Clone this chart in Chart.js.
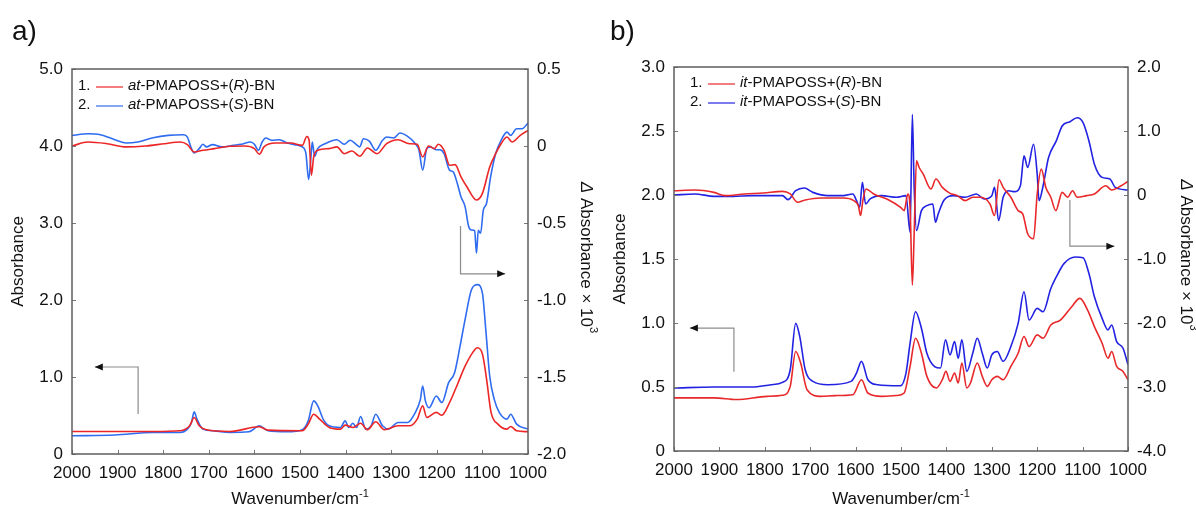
<!DOCTYPE html>
<html>
<head>
<meta charset="utf-8">
<script src="https://cdn.jsdelivr.net/npm/chart.js@4"></script>
<style>
  body { margin: 0; background: #fff; }
  #wrap { position: relative; width: 1196px; height: 508px; }
  canvas { position: absolute; top: 0; }
  #chartA { left: 0; }
  #chartB { left: 598px; }
</style>
</head>
<body>
<div id="wrap">
  <canvas id="chartA" width="598" height="508"></canvas>
  <canvas id="chartB" width="598" height="508"></canvas>
</div>
<script>
// ---- data (wavenumber / cm-1 and values) ----
const xTicks = [2000, 1900, 1800, 1700, 1600, 1500, 1400, 1300, 1200, 1100, 1000];
const aLeftTicks = [0, 1, 2, 3, 4, 5];
const aRightTicks = [-2, -1.5, -1, -0.5, 0, 0.5];
const bLeftTicks = [0, 0.5, 1, 1.5, 2, 2.5, 3];
const bRightTicks = [-4, -3, -2, -1, 0, 1, 2];

// a) delta absorbance x 10^3 (right axis)
const aDiffR_wn = [2000,1965,1923,1881,1839,1797,1763,1747,1732,1713,1688,1654,1621,1600,1589,1579,1554,1520,1495,1485,1480,1475,1470,1461,1436,1419,1403,1386,1369,1352,1331,1310,1285,1260,1243,1231,1218,1205,1197,1184,1172,1160,1147,1134,1113,1100,1084,1071,1059,1046,1035,1017,1000];
const aDiffR = [0,0.026,0.015,-0.006,0,0.015,0.026,0.009,-0.039,-0.028,-0.017,-0.002,0,-0.017,-0.054,-0.006,0.019,0.019,0.004,0.062,0.037,-0.19,-0.071,-0.028,-0.017,-0.006,-0.05,-0.032,-0.067,-0.013,-0.05,0.015,0.041,0.015,0.011,-0.071,0,-0.017,0.011,-0.028,-0.125,-0.121,-0.2,-0.265,-0.351,-0.308,-0.136,-0.05,0.015,0.058,0.026,0.069,0.101];
const aDiffS_wn = [2000,1965,1940,1906,1881,1856,1822,1789,1755,1747,1738,1732,1721,1713,1705,1692,1671,1646,1629,1608,1600,1591,1583,1575,1562,1545,1528,1512,1495,1487,1481,1476,1473,1468,1461,1445,1419,1403,1390,1377,1369,1361,1348,1334,1319,1310,1294,1281,1264,1247,1239,1231,1222,1214,1201,1193,1184,1172,1164,1155,1147,1138,1130,1124,1117,1113,1109,1104,1098,1091,1082,1071,1059,1046,1038,1025,1013,1000];
const aDiffS = [0.069,0.080,0.075,0.041,0.019,0.026,0.054,0.069,0.073,0.058,-0.017,-0.045,-0.017,0.011,-0.006,0.009,-0.006,0.004,0.011,0.026,0.011,-0.028,0.026,0.052,0.037,0.041,0.019,0.009,-0.006,-0.05,-0.218,-0.071,0.026,-0.067,-0.017,0.015,0.041,0.011,0.037,0.011,-0.006,0.047,0.032,-0.028,0.037,0.058,0.052,0.084,0.062,0.015,-0.028,-0.157,-0.017,-0.006,-0.024,-0.024,-0.05,-0.157,-0.168,-0.244,-0.33,-0.394,-0.524,-0.545,-0.55,-0.696,-0.547,-0.567,-0.416,-0.373,-0.2,-0.05,0.037,0.09,0.069,0.112,0.112,0.149];

// a) absorbance (left axis)
const aAbsR_wn = [2000,1906,1822,1763,1742,1732,1721,1705,1654,1589,1570,1495,1482,1470,1457,1436,1411,1401,1384,1367,1352,1334,1315,1285,1260,1243,1231,1222,1201,1189,1172,1155,1138,1121,1111,1100,1091,1081,1066,1046,1038,1025,1000];
const aAbsR = [0.293,0.293,0.293,0.302,0.366,0.474,0.366,0.315,0.293,0.353,0.31,0.302,0.388,0.517,0.453,0.345,0.323,0.375,0.345,0.40,0.315,0.418,0.315,0.366,0.366,0.453,0.625,0.474,0.54,0.504,0.668,0.90,1.14,1.32,1.38,1.30,0.98,0.54,0.388,0.323,0.358,0.302,0.29];
const aAbsS_wn = [2000,1906,1822,1763,1747,1738,1732,1726,1713,1688,1654,1612,1589,1570,1528,1495,1482,1470,1461,1449,1436,1411,1401,1393,1384,1376,1367,1356,1344,1334,1319,1306,1285,1264,1247,1236,1231,1225,1217,1201,1189,1174,1161,1149,1138,1124,1111,1100,1092,1084,1074,1063,1046,1038,1025,1000];
const aAbsS = [0.237,0.246,0.28,0.28,0.323,0.41,0.547,0.453,0.323,0.30,0.28,0.288,0.366,0.302,0.288,0.315,0.43,0.69,0.625,0.45,0.366,0.345,0.43,0.345,0.40,0.345,0.487,0.323,0.366,0.517,0.366,0.323,0.41,0.41,0.54,0.71,0.884,0.69,0.60,0.754,0.668,0.927,1.056,1.40,1.746,2.134,2.20,2.09,1.573,1.013,0.71,0.54,0.453,0.517,0.388,0.323];

// b) delta absorbance x 10^3 (right axis)
const bDiffR_wn = [2000,1954,1912,1887,1845,1803,1761,1744,1728,1711,1677,1627,1604,1594,1589,1584,1577,1560,1527,1501,1493,1485,1480,1475,1471,1466,1460,1451,1434,1423,1409,1392,1376,1359,1342,1325,1304,1294,1284,1275,1258,1242,1232,1221,1208,1200,1191,1181,1170,1159,1145,1133,1122,1112,1091,1074,1049,1036,1015,1000];
const bDiffR = [0.067,0.078,0.041,-0.01,0.016,0.031,0.057,0.016,-0.114,-0.078,-0.047,-0.047,-0.088,-0.166,-0.321,-0.088,0.093,0.016,-0.078,-0.192,-0.244,0.016,-0.192,-1.409,-0.606,0.534,0.43,0.326,0.093,0.249,0.119,0.026,-0.01,-0.088,-0.036,-0.036,-0.14,-0.321,0.238,0.119,-0.036,-0.244,-0.295,-0.606,-0.684,0.016,0.404,0.119,-0.036,-0.244,0.041,-0.036,0.067,-0.036,-0.01,0.016,0.145,0.078,0.145,0.212];
const bDiffS_wn = [2000,1954,1912,1870,1828,1761,1749,1732,1713,1694,1661,1627,1606,1598,1591,1585,1578,1568,1543,1510,1489,1480,1475,1471,1466,1455,1443,1430,1424,1418,1405,1384,1359,1334,1317,1300,1294,1285,1275,1263,1250,1237,1229,1221,1208,1200,1196,1187,1175,1158,1145,1128,1112,1099,1086,1074,1057,1040,1028,1000];
const bDiffS = [0,0.016,-0.021,-0.021,-0.01,-0.01,-0.073,0.067,0.109,0.041,-0.01,-0.01,0.016,-0.088,-0.192,0.197,-0.14,-0.062,-0.01,-0.036,-0.01,-0.58,1.259,0.119,-0.554,-0.244,-0.166,-0.14,-0.425,-0.295,-0.078,-0.01,-0.036,0.016,-0.062,-0.01,0.119,-0.399,-0.036,0.067,0.052,0.145,0.611,0.43,0.793,0.326,-0.088,0.145,0.585,0.845,1.078,1.145,1.207,1.13,0.845,0.482,0.275,0.249,0.119,0.078];

// b) absorbance (left axis)
const bAbsR_wn = [2000,1912,1862,1795,1761,1744,1732,1721,1707,1677,1644,1606,1587,1573,1543,1510,1493,1480,1468,1455,1443,1422,1409,1401,1392,1382,1374,1366,1355,1347,1332,1321,1310,1300,1288,1275,1258,1242,1229,1218,1200,1187,1170,1149,1124,1106,1089,1074,1057,1044,1036,1025,1011,1000];
const bAbsR = [0.415,0.415,0.402,0.427,0.435,0.505,0.777,0.687,0.479,0.427,0.433,0.44,0.557,0.453,0.427,0.433,0.453,0.661,0.881,0.764,0.583,0.492,0.557,0.622,0.544,0.609,0.531,0.687,0.492,0.531,0.687,0.583,0.505,0.557,0.583,0.557,0.661,0.764,0.894,0.816,0.907,0.881,0.984,1.023,1.127,1.192,1.101,0.972,0.842,0.725,0.777,0.661,0.622,0.557];
const bAbsS_wn = [2000,1912,1828,1786,1761,1744,1732,1723,1711,1694,1661,1610,1598,1587,1573,1552,1501,1489,1480,1468,1455,1443,1426,1413,1402,1392,1382,1374,1366,1355,1342,1332,1321,1310,1300,1288,1275,1258,1242,1229,1218,1200,1187,1170,1158,1141,1116,1099,1086,1074,1057,1044,1036,1025,1011,1000];
const bAbsS = [0.492,0.5,0.5,0.518,0.536,0.635,0.997,0.894,0.635,0.544,0.518,0.544,0.609,0.70,0.557,0.518,0.51,0.609,0.842,1.088,0.959,0.764,0.66,0.648,0.868,0.751,0.855,0.725,0.868,0.622,0.764,0.881,0.764,0.648,0.751,0.777,0.70,0.816,0.997,1.244,1.023,1.114,1.088,1.269,1.36,1.464,1.516,1.51,1.386,1.205,1.036,0.946,0.984,0.855,0.803,0.674];

const FONT = '"Liberation Sans", Arial, Helvetica, sans-serif';

function pts(wn, v) {
  return wn.map((w, i) => ({ x: w, y: v[i] }));
}
function fmt1(v) {
  return v === 0 ? '0' : v.toFixed(1);
}

// arrow head at end of polyline
function arrowHead(ctx, x0, y0, x1, y1) {
  const ang = Math.atan2(y1 - y0, x1 - x0);
  const L = 8, W = 3.5;
  ctx.beginPath();
  ctx.moveTo(x1, y1);
  ctx.lineTo(x1 - L * Math.cos(ang) + W * Math.sin(ang), y1 - L * Math.sin(ang) - W * Math.cos(ang));
  ctx.lineTo(x1 - L * Math.cos(ang) - W * Math.sin(ang), y1 - L * Math.sin(ang) + W * Math.cos(ang));
  ctx.closePath();
  ctx.fill();
}

// draws a run of [text, italic, sup] pieces starting at x
function drawRuns(ctx, runs, x, y, size) {
  runs.forEach(r => {
    const s = r[2] ? Math.round(size * 0.65) : size;
    ctx.font = (r[1] ? 'italic ' : '') + s + 'px ' + FONT;
    ctx.fillText(r[0], x, r[2] ? y - size * 0.42 : y);
    x += ctx.measureText(r[0]).width;
  });
  return x;
}
function runsWidth(ctx, runs, size) {
  let w = 0;
  runs.forEach(r => {
    const s = r[2] ? Math.round(size * 0.65) : size;
    ctx.font = (r[1] ? 'italic ' : '') + s + 'px ' + FONT;
    w += ctx.measureText(r[0]).width;
  });
  return w;
}

const panelDeco = {
  id: 'panelDeco',
  afterDraw(chart, args, o) {
    const ctx = chart.ctx, a = chart.chartArea;
    const xs = chart.scales.x, yl = chart.scales.y, yr = chart.scales.y2;
    ctx.save();

    // inward tick marks
    ctx.strokeStyle = '#777';
    ctx.lineWidth = 1;
    ctx.beginPath();
    xs.ticks.forEach(t => {
      const p = Math.round(xs.getPixelForValue(t.value)) + 0.5;
      ctx.moveTo(p, a.bottom); ctx.lineTo(p, a.bottom - 4);
    });
    yl.ticks.forEach(t => {
      const p = Math.round(yl.getPixelForValue(t.value)) + 0.5;
      ctx.moveTo(a.left, p); ctx.lineTo(a.left + 4, p);
    });
    yr.ticks.forEach(t => {
      const p = Math.round(yr.getPixelForValue(t.value)) + 0.5;
      ctx.moveTo(a.right, p); ctx.lineTo(a.right - 4, p);
    });
    ctx.stroke();

    // frame
    ctx.strokeStyle = '#5e5e5e';
    ctx.lineWidth = 1.5;
    ctx.strokeRect(a.left, a.top, a.right - a.left, a.bottom - a.top);

    // arrows
    o.arrows.forEach(ar => {
      const ys = chart.scales[ar.axis];
      const p = ar.pts.map(q => [xs.getPixelForValue(q[0]), ys.getPixelForValue(q[1])]);
      ctx.strokeStyle = '#8c8c8c';
      ctx.lineWidth = 1.2;
      ctx.beginPath();
      ctx.moveTo(p[0][0], p[0][1]);
      for (let i = 1; i < p.length; i++) ctx.lineTo(p[i][0], p[i][1]);
      ctx.stroke();
      ctx.fillStyle = '#111';
      const n = p.length;
      arrowHead(ctx, p[n - 2][0], p[n - 2][1], p[n - 1][0], p[n - 1][1]);
    });

    // legend
    ctx.textBaseline = 'middle';
    ctx.textAlign = 'left';
    o.legend.forEach((it, i) => {
      const y = o.legendY + i * o.legendGap;
      ctx.fillStyle = '#111';
      ctx.font = '15px ' + FONT;
      ctx.fillText((i + 1) + '.', o.legendX, y);
      ctx.strokeStyle = it.color;
      ctx.lineWidth = 1.2;
      ctx.beginPath();
      ctx.moveTo(o.legendX + 18, y + 1);
      ctx.lineTo(o.legendX + 45, y + 1);
      ctx.stroke();
      drawRuns(ctx, it.runs, o.legendX + 50, y, 15);
    });

    // axis titles
    ctx.fillStyle = '#111';
    const midY = (a.top + a.bottom) / 2;
    ctx.save();
    ctx.translate(a.left - 54, midY);
    ctx.rotate(-Math.PI / 2);
    ctx.textAlign = 'center';
    ctx.font = '17px ' + FONT;
    ctx.fillText('Absorbance', 0, 0);
    ctx.restore();

    const rRuns = [['\u0394', true], [' Absorbance \u00d7 10', false], ['3', false, true]];
    ctx.save();
    ctx.translate(a.right + 58, midY - 4);
    ctx.rotate(Math.PI / 2);
    ctx.textAlign = 'left';
    drawRuns(ctx, rRuns, -runsWidth(ctx, rRuns, 17) / 2, 0, 17);
    ctx.restore();

    const xRuns = [['Wavenumber/cm', false], ['-1', false, true]];
    ctx.textBaseline = 'alphabetic';
    drawRuns(ctx, xRuns, (a.left + a.right) / 2 - runsWidth(ctx, xRuns, 17) / 2, 504, 17);

    // panel label
    ctx.font = '28px ' + FONT;
    ctx.fillText(o.label, o.labelX, 40);
    ctx.restore();
  }
};

function makeChart(id, p) {
  return new Chart(document.getElementById(id), {
    type: 'line',
    data: {
      datasets: p.sets.map(s => ({
        data: s.data,
        yAxisID: s.axis,
        borderColor: s.color,
        borderWidth: 1.6,
        pointRadius: 0,
        fill: false,
        cubicInterpolationMode: 'monotone'
      }))
    },
    options: {
      responsive: false,
      animation: false,
      events: [],
      layout: { padding: { top: p.top, left: 0, right: 0, bottom: 0 } },
      scales: {
        x: {
          type: 'linear', position: 'bottom', reverse: true, min: 1000, max: 2000,
          grid: { display: false }, border: { display: false },
          afterBuildTicks: s => { s.ticks = xTicks.map(v => ({ value: v })); },
          afterFit: s => { s.height = 508 - p.bottom; },
          ticks: { autoSkip: false, maxRotation: 0, padding: 1, color: '#111',
                   font: { family: FONT, size: 17 }, callback: v => String(v) }
        },
        y: {
          type: 'linear', position: 'left', min: p.leftRange[0], max: p.leftRange[1],
          grid: { display: false }, border: { display: false },
          afterBuildTicks: s => { s.ticks = p.leftTicks.map(v => ({ value: v })); },
          afterFit: s => { s.width = p.left; },
          ticks: { padding: 1, color: '#111', font: { family: FONT, size: 17 }, callback: fmt1 }
        },
        y2: {
          type: 'linear', position: 'right', min: p.rightRange[0], max: p.rightRange[1],
          grid: { display: false }, border: { display: false },
          afterBuildTicks: s => { s.ticks = p.rightTicks.map(v => ({ value: v })); },
          afterFit: s => { s.width = 598 - p.right; },
          ticks: { padding: 1, color: '#111', font: { family: FONT, size: 17 }, callback: fmt1 }
        }
      },
      plugins: {
        legend: { display: false },
        tooltip: { enabled: false },
        panelDeco: p.deco
      }
    },
    plugins: [panelDeco]
  });
}

const redA = '#ec2626', blueA = '#2f6cf0';
const redB = '#e8282a', blueB = '#2222e2';

makeChart('chartA', {
  top: 69, bottom: 454, left: 72, right: 528,
  leftRange: [0, 5], rightRange: [-2, 0.5],
  leftTicks: aLeftTicks, rightTicks: aRightTicks,
  sets: [
    { data: pts(aDiffR_wn, aDiffR), axis: 'y2', color: redA },
    { data: pts(aDiffS_wn, aDiffS), axis: 'y2', color: blueA },
    { data: pts(aAbsR_wn, aAbsR), axis: 'y', color: redA },
    { data: pts(aAbsS_wn, aAbsS), axis: 'y', color: blueA }
  ],
  deco: {
    label: 'a)', labelX: 12,
    legendX: 78, legendY: 86, legendGap: 19,
    legend: [
      { color: redA, runs: [['at', true], ['-PMAPOSS+(', false], ['R', true], [')-BN', false]] },
      { color: blueA, runs: [['at', true], ['-PMAPOSS+(', false], ['S', true], [')-BN', false]] }
    ],
    arrows: [
      { axis: 'y', pts: [[1855, 0.52], [1855, 1.13], [1950, 1.13]] },
      { axis: 'y2', pts: [[1148, -0.52], [1148, -0.83], [1050, -0.83]] }
    ]
  }
});

makeChart('chartB', {
  top: 67, bottom: 451, left: 76, right: 530,
  leftRange: [0, 3], rightRange: [-4, 2],
  leftTicks: bLeftTicks, rightTicks: bRightTicks,
  sets: [
    { data: pts(bDiffR_wn, bDiffR), axis: 'y2', color: redB },
    { data: pts(bDiffS_wn, bDiffS), axis: 'y2', color: blueB },
    { data: pts(bAbsR_wn, bAbsR), axis: 'y', color: redB },
    { data: pts(bAbsS_wn, bAbsS), axis: 'y', color: blueB }
  ],
  deco: {
    label: 'b)', labelX: 12,
    legendX: 92, legendY: 83, legendGap: 19,
    legend: [
      { color: redB, runs: [['it', true], ['-PMAPOSS+(', false], ['R', true], [')-BN', false]] },
      { color: blueB, runs: [['it', true], ['-PMAPOSS+(', false], ['S', true], [')-BN', false]] }
    ],
    arrows: [
      { axis: 'y', pts: [[1868, 0.62], [1868, 0.96], [1965, 0.96]] },
      { axis: 'y2', pts: [[1128, -0.08], [1128, -0.8], [1030, -0.8]] }
    ]
  }
});
</script>
</body>
</html>
